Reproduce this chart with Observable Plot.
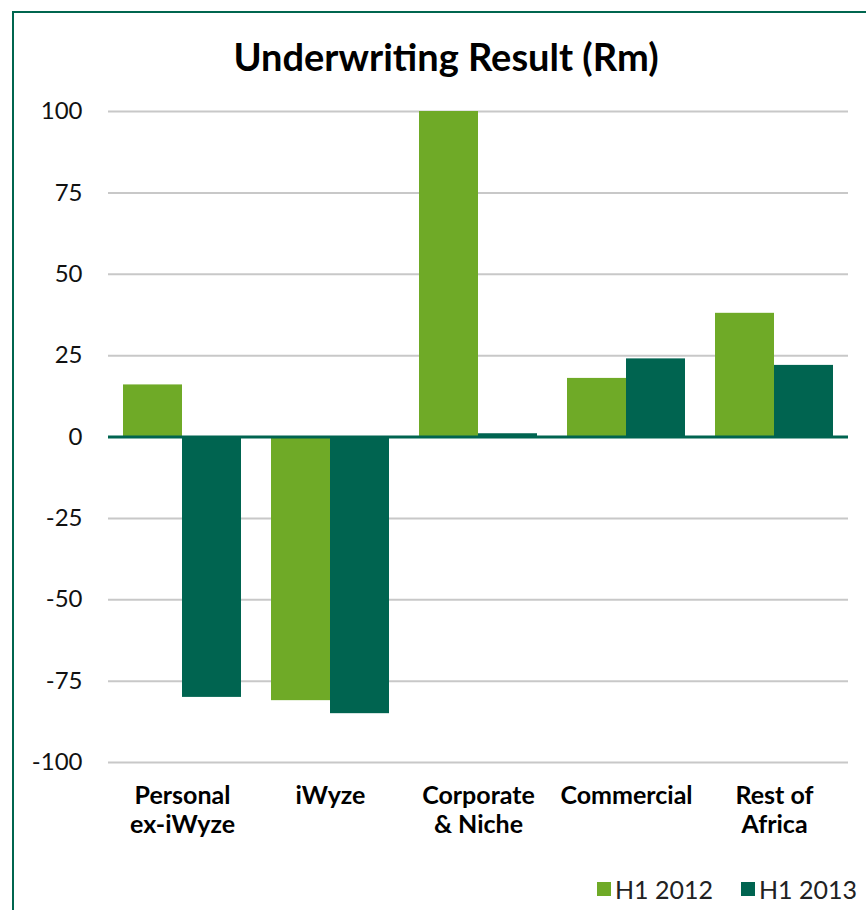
<!DOCTYPE html>
<html>
<head>
<meta charset="utf-8">
<script src="https://cdn.jsdelivr.net/npm/d3@7"></script>
<script src="https://cdn.jsdelivr.net/npm/@observablehq/plot@0.6"></script>
<style>
  html, body { margin: 0; padding: 0; background: #fff; }
  body { width: 866px; height: 910px; position: relative; overflow: hidden; font-family: "Lato", "Open Sans", sans-serif; }
  #frame { position: absolute; left: 12px; top: 11px; width: 900px; height: 960px; border-top: 2.5px solid #00664f; border-left: 2.5px solid #00664f; }
  #title { position: absolute; left: 0; width: 892px; top: 33px; text-align: center; font-size: 38px; font-weight: 700; color: #000; white-space: nowrap; }
  #chart { position: absolute; left: 0; top: 90px; }
  #legend { position: absolute; left: 597px; top: 874px; display: flex; align-items: center; font-size: 25px; color: #222; white-space: nowrap; }
  .sw { width: 14px; height: 14px; display: inline-block; margin-right: 4px; }
  .item { display: flex; align-items: center; margin-right: 28px; white-space: nowrap; }
</style>
</head>
<body>
<div id="frame"></div>
<div id="title">Underwriting Result (Rm)</div>
<div id="chart"></div>
<div id="legend"></div>
<script>
const categories = ["Personal\nex-iWyze", "iWyze", "Corporate\n& Niche", "Commercial", "Rest of\nAfrica"];
const series = ["H1 2012", "H1 2013"];
const valuesH12012 = [16, -81, 100, 18, 38];
const valuesH12013 = [-80, -85, 1, 24, 22];
const yTicks = [-100, -75, -50, -25, 0, 25, 50, 75, 100];
const colors = ["#6faa27", "#006450"];

const data = [];
categories.forEach((c, i) => {
  data.push({cat: c, series: series[0], value: valuesH12012[i]});
  data.push({cat: c, series: series[1], value: valuesH12013[i]});
});

const chart = Plot.plot({
  width: 866,
  height: 760,
  marginLeft: 108,
  marginRight: 18,
  marginTop: 21,
  marginBottom: 88,
  style: {fontFamily: "Lato, 'Open Sans', sans-serif", background: "transparent"},
  fx: {domain: categories, padding: 0, label: null},
  x: {domain: series, paddingInner: 0, paddingOuter: 0.254, axis: null},
  y: {domain: [-100, 100], label: null},
  color: {domain: series, range: colors},
  marks: [
    Plot.gridY(yTicks, {stroke: "#c8c8c8", strokeOpacity: 1, strokeWidth: 2}),
    Plot.axisY(yTicks, {tickSize: 0, tickPadding: 26, fontSize: 24, fill: "#111", label: null, tickFormat: d => String(d)}),
    Plot.axisFx({anchor: "bottom", tickSize: 0, tickPadding: 21, fontSize: 25, fontWeight: "bold", fill: "#000", lineHeight: 1.15, label: null}),
    Plot.barY(data, {fx: "cat", x: "series", y: "value", fill: "series"}),
    Plot.ruleY([0], {stroke: "#006450", strokeWidth: 3})
  ]
});
document.getElementById("chart").appendChild(chart);

const legend = document.getElementById("legend");
series.forEach((s, i) => {
  const item = document.createElement("div");
  item.className = "item";
  const sw = document.createElement("span");
  sw.className = "sw";
  sw.style.background = colors[i];
  item.appendChild(sw);
  const t = document.createElement("span");
  t.textContent = s;
  item.appendChild(t);
  legend.appendChild(item);
});
</script>
</body>
</html>
